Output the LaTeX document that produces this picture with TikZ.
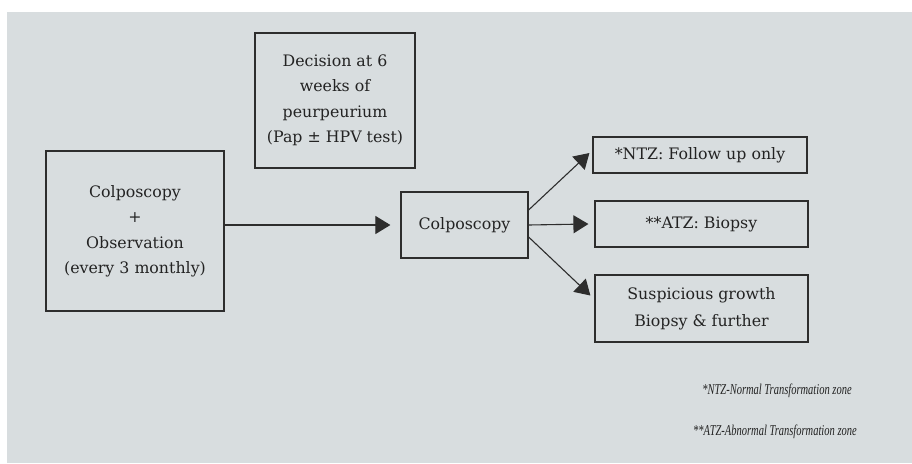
\documentclass[tikz,border=0pt]{standalone}
\usepackage{fontspec}
\usepackage{graphicx}
\setmainfont{DejaVu Serif}
\newfontfamily\notefont{Liberation Serif}
\usetikzlibrary{arrows.meta,calc}
\definecolor{bgc}{RGB}{216,221,223}
\definecolor{ink}{RGB}{35,35,35}
\definecolor{edge}{RGB}{45,45,45}
\begin{document}
\begin{tikzpicture}[x=1pt,y=-1pt,
  box/.style={draw=edge,line width=1.2pt,rectangle,inner sep=0pt,align=center,text=ink,
    font=\fontsize{15.8}{25.5}\selectfont},
  arr/.style={draw=edge,line width=1.1pt,-{Triangle[length=15pt,width=18pt]}},
  note/.style={text=ink,inner sep=0pt,font=\notefont\itshape\fontsize{15}{17}\selectfont}]
\useasboundingbox (0,0) rectangle (912,463);
\fill[bgc] (7,12) rectangle (912,463);
\node[box,minimum width=160pt,minimum height=135pt] (dec) at (335,100.5)
  {Decision at 6\\weeks of\\peurpeurium\\(Pap ± HPV test)};
\node[box,minimum width=178pt,minimum height=160pt] (left) at (135,231)
  {Colposcopy\\+\\Observation\\(every 3 monthly)};
\node[box,minimum width=127pt,minimum height=66pt] (colp) at (464.5,225) {Colposcopy};
\node[box,minimum width=214pt,minimum height=36pt] (ntz) at (700,155) {*NTZ: Follow up only};
\node[box,minimum width=213pt,minimum height=46pt] (atz) at (701.5,224) {**ATZ: Biopsy};
\node[box,minimum width=213pt,minimum height=67pt,font=\fontsize{15.8}{27}\selectfont] (susp) at (701.5,308.5)
  {Suspicious growth\\Biopsy \& further};
\node[note] (n1) at (777,391) {\scalebox{0.70}[1]{*NTZ-Normal Transformation zone}};
\node[note] (n2) at (775,432) {\scalebox{0.70}[1]{**ATZ-Abnormal Transformation zone}};
\draw[arr] (left.east |- colp.west) -- ([xshift=-10pt]colp.west);
\draw[arr] ($(colp.east)+(0,-15)$) -- ($(ntz.west)+(-3,-2)$);
\draw[arr] (colp.east) -- ([xshift=-6pt]atz.west);
\draw[arr] ($(colp.east)+(0,12)$) -- ($(susp.west)+(-4,-13)$);
\end{tikzpicture}
\end{document}
